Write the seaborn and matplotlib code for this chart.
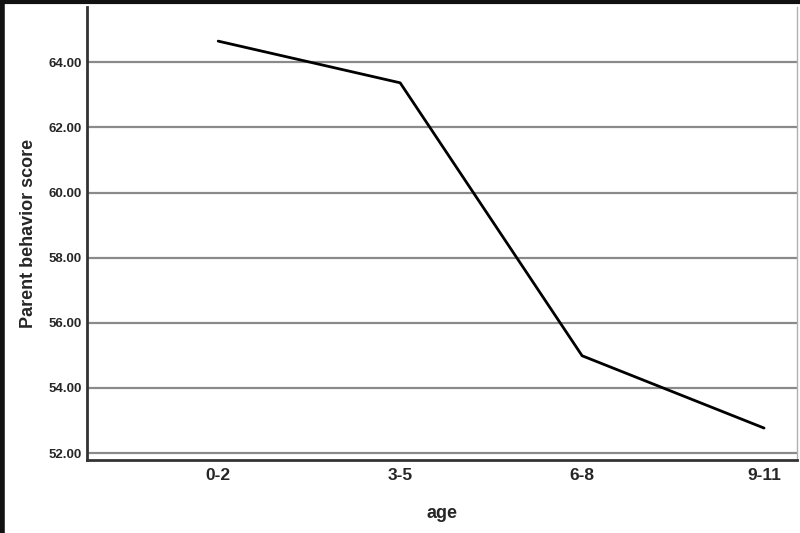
import numpy as np
import pandas as pd
import seaborn as sns
import matplotlib.pyplot as plt
from matplotlib.lines import Line2D

# values
ages = ['0-2', '3-5', '6-8', '9-11']
scores = [64.65, 63.37, 54.99, 52.77]
y_ticks = [52, 54, 56, 58, 60, 62, 64]

df = pd.DataFrame({'age': ages, 'score': scores})

sns.set_style('white')
plt.rcParams['font.family'] = ['Liberation Sans', 'DejaVu Sans']

fig = plt.figure(figsize=(8, 5.33), dpi=100)
ax = fig.add_axes([0.109, 0.137, 0.887, 0.850])

# horizontal gridlines like SPSS output
for t in y_ticks:
    ax.axhline(t, color='#8a8a8a', lw=1.6, zorder=1)

sns.lineplot(data=df, x='age', y='score', color='black', lw=2.0,
             sort=False, ax=ax, zorder=3)

ax.set_xlim(-0.72, 3.18)
ax.set_ylim(51.79, 65.7)
ax.set_yticks(y_ticks)
ax.set_yticklabels([f'{t:.2f}' for t in y_ticks])
ax.tick_params(axis='both', length=0)
ax.tick_params(axis='y', pad=4, labelsize=9.5)
ax.tick_params(axis='x', pad=6, labelsize=12.5)
for lab in ax.get_xticklabels() + ax.get_yticklabels():
    lab.set_fontweight('bold')

ax.spines['top'].set_visible(False)
ax.spines['right'].set_color('#b0b0b0')
ax.spines['right'].set_linewidth(1.0)
for s in ['left', 'bottom']:
    ax.spines[s].set_color('#333333')
    ax.spines[s].set_linewidth(2.0)

ax.set_xlabel('age', fontsize=13, fontweight='bold')
ax.set_ylabel('Parent behavior score', fontsize=13, fontweight='bold')
ax.xaxis.set_label_coords(0.5, -0.099)
ax.yaxis.set_label_coords(-0.071, 0.5)

# black frame on the top and left edges of the picture
fig.add_artist(Line2D([0, 1], [0.996, 0.996], transform=fig.transFigure,
                      color='#111111', lw=3))
fig.add_artist(Line2D([0.003, 0.003], [0, 1], transform=fig.transFigure,
                      color='#111111', lw=4))

fig.savefig('out.png', dpi=100)
